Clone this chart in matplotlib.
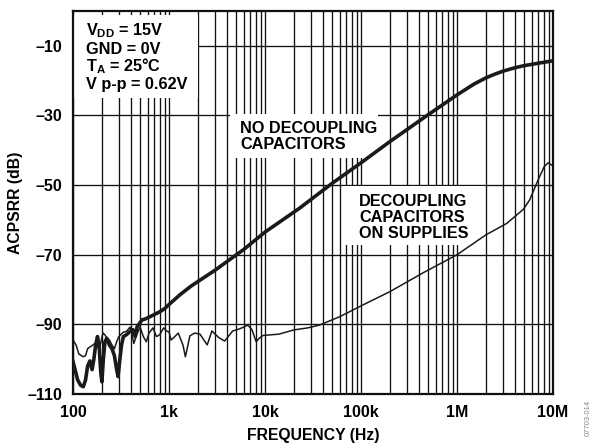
import numpy as np
import matplotlib
matplotlib.use("Agg")
from matplotlib import pyplot as plt
from matplotlib.patches import Rectangle
from matplotlib.ticker import FixedLocator, NullFormatter

plt.rcParams['font.family'] = ['Liberation Sans', 'DejaVu Sans']
plt.rcParams['font.weight'] = 'bold'
plt.rcParams['mathtext.fontset'] = 'custom'
plt.rcParams['mathtext.rm'] = 'Liberation Sans:bold'
plt.rcParams['mathtext.it'] = 'Liberation Sans:bold'
plt.rcParams['mathtext.bf'] = 'Liberation Sans:bold'

# No decoupling capacitors (thick trace)
freq_nodec = [100, 105, 112, 120, 128, 135, 142, 150, 158, 165, 172, 180, 188, 195,
              200, 207, 215, 225, 240, 255, 270, 285, 295, 305, 320, 335, 360, 393,
              420, 445, 465, 500, 525, 560, 634, 700, 800, 900, 1000, 1300, 1700,
              2000, 3000, 4000, 6000, 10000, 23000, 50000, 100000, 200000, 500000,
              1e6, 1.5e6, 2e6, 2.5e6, 3e6, 4e6, 5e6, 7e6, 1e7]
acpsrr_nodec = [-100.7, -103, -106, -107.5, -107.9, -106, -102, -100.5, -103, -100, -96,
                -93.5, -97, -104, -106.5, -100, -95, -94, -96, -97, -99, -103, -105,
                -101, -96, -93.5, -93, -92, -91.5, -93.5, -90.7, -89.5, -88.7, -88.5,
                -87.8, -87.2, -86.4, -85.5, -84.3, -81.5, -79, -77.7, -74.5, -72,
                -68.5, -63.5, -56.6, -49.5, -43.6, -37.5, -29.8, -24.1, -21.0, -19.2,
                -18.1, -17.3, -16.3, -15.7, -15.0, -14.3]

# Decoupling capacitors on supplies (thin trace)
freq_dec = [100, 108, 115, 127, 135, 142, 150, 160, 170, 180, 190, 205, 215, 225, 240,
            255, 270, 285, 300, 333, 360, 393, 410, 430, 460, 500, 540, 580, 620, 680,
            740, 800, 880, 950, 1000, 1050, 1150, 1250, 1400, 1480, 1560, 1650, 1850,
            2100, 2500, 2800, 3300, 3800, 4600, 5300, 6000, 6600, 7300, 8100, 8700,
            9500, 14000, 20000, 28000, 37000, 60000, 100000, 200000, 443000, 1e6,
            2e6, 3.3e6, 4.9e6, 5.7e6, 7e6, 8.1e6, 8.9e6, 1e7]
acpsrr_dec = [-94.5, -96, -98.5, -99.3, -99, -97, -96.5, -96, -95.4, -95, -96.5, -92.5,
              -93, -94, -94.5, -96, -97, -95, -93.5, -92.3, -92, -90.8, -92.5, -95.5,
              -93, -90.8, -93.5, -95, -92.5, -91, -93.5, -93, -91, -92, -92.1, -94.5,
              -93.5, -92.5, -96, -99.3, -96.5, -93.3, -92.5, -92.8, -95.9, -91.9,
              -93.8, -94.8, -91.9, -91.4, -90.8, -90.2, -91.5, -95, -94, -93.2, -92.8,
              -91.6, -91, -90.2, -87.8, -84.7, -80.6, -75.2, -70, -64.3, -61, -57,
              -54.3, -48.5, -44.7, -43.6, -44.5]

xticks = [1e2, 1e3, 1e4, 1e5, 1e6, 1e7]
xticklabels = ['100', '1k', '10k', '100k', '1M', '10M']
yticks = [-110, -90, -70, -50, -30, -10]

W, H = 592, 448
fig = plt.figure(figsize=(W / 100, H / 100), dpi=100)
ax = fig.add_axes([73 / W, 1 - 394 / H, 480 / W, 383 / H])


def px(x, y):
    # pixel position (from top-left) -> figure fraction
    return x / W, 1 - y / H


ax.set_xscale('log')
ax.set_xlim(1e2, 1e7)
ax.set_ylim(-110, 0)

minor = [m * 10 ** e for e in range(2, 7) for m in range(2, 10)]
ax.xaxis.set_major_locator(FixedLocator(xticks))
ax.xaxis.set_minor_locator(FixedLocator(minor))
ax.xaxis.set_minor_formatter(NullFormatter())
ax.set_xticks(xticks)
ax.set_xticklabels(xticklabels)
ax.set_yticks(yticks)
ax.set_yticklabels(['\u2013' + str(abs(v)) for v in yticks])

ax.set_axisbelow(True)
ax.grid(True, which='both', axis='x', color='#111111', linewidth=0.95)
ax.grid(True, which='major', axis='y', color='#111111', linewidth=0.95)
ax.tick_params(which='both', length=0, labelsize=11.5)
ax.tick_params(axis='x', pad=8)
ax.tick_params(axis='y', pad=8)
for s in ax.spines.values():
    s.set_linewidth(1.6)
    s.set_color('#111111')

# white panels behind the labels
for (x0, y0, x1, y1) in [(74, 15, 198, 98), (230, 114, 378, 158), (342, 186, 485, 245)]:
    fx, fy = px(x0, y1)
    ax.add_patch(Rectangle((fx, fy), (x1 - x0) / W, (y1 - y0) / H,
                           transform=fig.transFigure, facecolor='white',
                           edgecolor='none', zorder=1))

ax.plot(freq_dec, acpsrr_dec, color='#1a1a1a', linewidth=1.1, zorder=2)
ax.plot(freq_nodec, acpsrr_nodec, color='#1a1a1a', linewidth=2.6, zorder=3)

fs = 11.7
cond = [r'$\mathrm{V_{DD}}$ = 15V', 'GND = 0V', r'$\mathrm{T_A}$ = 25°C', 'V p-p = 0.62V']
for i, t in enumerate(cond):
    fig.text(*px(86, 35.5 + 18 * i), t, fontsize=fs, fontweight='bold', va='baseline')

for i, t in enumerate(['NO DECOUPLING', 'CAPACITORS']):
    fig.text(*px(240, 133 + 15.7 * i), t, fontsize=fs, fontweight='bold', va='baseline')

for i, t in enumerate(['DECOUPLING', 'CAPACITORS', 'ON SUPPLIES']):
    fig.text(*px(359, 205.7 + 16.3 * i), t, fontsize=fs, fontweight='bold', va='baseline')

ax.set_xlabel('FREQUENCY (Hz)', fontsize=11.3, fontweight='bold', labelpad=6)
ax.set_ylabel('ACPSRR (dB)', fontsize=11.3, fontweight='bold', labelpad=3)

fig.text(*px(588, 400), '07703-014', rotation=90, fontsize=5.5, color='#888888',
         fontweight='normal', ha='center', va='top')

fig.savefig('out.png', dpi=100)
